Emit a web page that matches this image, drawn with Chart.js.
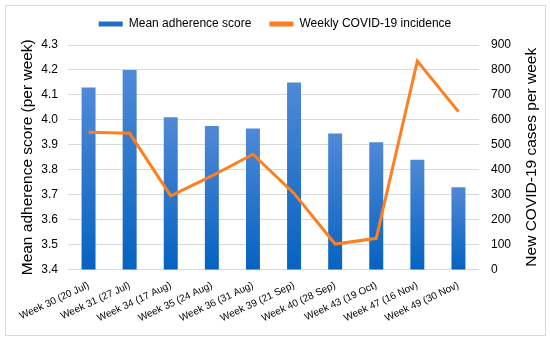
<!DOCTYPE html>
<html>
<head>
<meta charset="utf-8">
<script src="https://cdn.jsdelivr.net/npm/chart.js@4"></script>
<style>
  html, body { margin: 0; padding: 0; background: #fff; overflow: hidden; }
  #wrap { position: absolute; left: 0; top: 0; width: 550px; height: 339px; }
  #frame { position: absolute; left: 5px; top: 5px; width: 541px; height: 331px; border: 1px solid #d9d9d9; box-sizing: border-box; pointer-events: none; }
</style>
</head>
<body>
<div id="wrap"><canvas id="chart"></canvas></div>
<div id="frame"></div>
<script>
const weeks = [
  "Week 30 (20 Jul)", "Week 31 (27 Jul)", "Week 34 (17 Aug)", "Week 35 (24 Aug)",
  "Week 36 (31 Aug)", "Week 39 (21 Sep)", "Week 40 (28 Sep)", "Week 43 (19 Oct)",
  "Week 47 (16 Nov)", "Week 49 (30 Nov)"
];
const adherence = [4.13, 4.20, 4.01, 3.975, 3.965, 4.15, 3.945, 3.91, 3.84, 3.73];
const incidence = [550, 546, 295, 375, 462, 305, 102, 125, 836, 633];

const leftTitle = "Mean adherence score (per week)";
const rightTitle = "New COVID-19 cases per week";

Chart.defaults.font.family = "'Liberation Sans', Arial, sans-serif";
Chart.defaults.color = "#000";

// each bar fades from a lighter blue at its top to a deep blue at its base
function barFill(ctx) {
  const chart = ctx.chart;
  const area = chart.chartArea;
  const y = chart.scales.y;
  if (!area || !y || ctx.raw == null) return "#2f75cc";
  const top = y.getPixelForValue(ctx.raw);
  const g = chart.ctx.createLinearGradient(0, top, 0, area.bottom);
  g.addColorStop(0, "#5089d6");
  g.addColorStop(1, "#0563c1");
  return g;
}

// vertical titles, both reading bottom to top like the original
const axisTitles = {
  id: "axisTitles",
  afterInit(chart) {
    // keep the legend band a fixed height so the plot starts where the original does
    const fit = chart.legend.fit;
    chart.legend.fit = function () {
      fit.call(this);
      this.height = 45;
    };
  },
  afterDraw(chart) {
    const c = chart.ctx;
    const a = chart.chartArea;
    const mid = (a.top + a.bottom) / 2;
    [[28, leftTitle], [532, rightTitle]].forEach(([x, text]) => {
      c.save();
      c.fillStyle = "#000";
      c.font = "15.5px 'Liberation Sans', Arial, sans-serif";
      c.textAlign = "center";
      c.textBaseline = "middle";
      c.translate(x, mid);
      c.rotate(-Math.PI / 2);
      c.fillText(text, 0, 0);
      c.restore();
    });
  },
};

new Chart(document.getElementById("chart"), {
  data: {
    labels: weeks,
    datasets: [
      {
        type: "line",
        label: "Weekly COVID-19 incidence",
        data: incidence,
        yAxisID: "y1",
        borderColor: "#ff7f1e",
        backgroundColor: "#ff7f1e",
        borderWidth: 3,
        pointRadius: 0,
        tension: 0,
        order: 1,
      },
      {
        type: "bar",
        label: "Mean adherence score",
        data: adherence,
        yAxisID: "y",
        backgroundColor: barFill,
        categoryPercentage: 1,
        barPercentage: 0.34,
        order: 2,
      },
    ],
  },
  options: {
    responsive: true,
    maintainAspectRatio: false,
    animation: false,
    layout: { padding: 0 },
    plugins: {
      legend: {
        position: "top",
        reverse: true,
        labels: {
          font: { size: 12 },
          color: "#000",
          boxWidth: 24,
          boxHeight: 5,
          padding: 18,
          generateLabels(chart) {
            const items = Chart.defaults.plugins.legend.labels.generateLabels(chart);
            items.forEach((it) => {
              it.lineWidth = 0;
              it.fillStyle = it.datasetIndex === 1 ? "#1f6fc9" : "#ff7f1e";
            });
            return items;
          },
        },
      },
      tooltip: { enabled: false },
    },
    scales: {
      x: {
        grid: { display: false },
        border: { display: false },
        ticks: { font: { size: 10 }, color: "#000", minRotation: 25, maxRotation: 25, autoSkip: false, padding: 2 },
        afterFit(scale) { scale.height = 69.5; },
      },
      y: {
        position: "left",
        min: 3.4,
        max: 4.3,
        ticks: { stepSize: 0.1, font: { size: 12 }, color: "#000", padding: 10, callback: (v) => v.toFixed(1) },
        grid: { color: "#d9d9d9", drawTicks: false },
        border: { display: false },
        afterFit(scale) { scale.width = 68; },
      },
      y1: {
        position: "right",
        min: 0,
        max: 900,
        ticks: { stepSize: 100, font: { size: 12 }, color: "#000", padding: 12 },
        grid: { display: false, drawTicks: false },
        border: { display: false },
        afterFit(scale) { scale.width = 71; },
      },
    },
  },
  plugins: [axisTitles],
});
</script>
</body>
</html>
